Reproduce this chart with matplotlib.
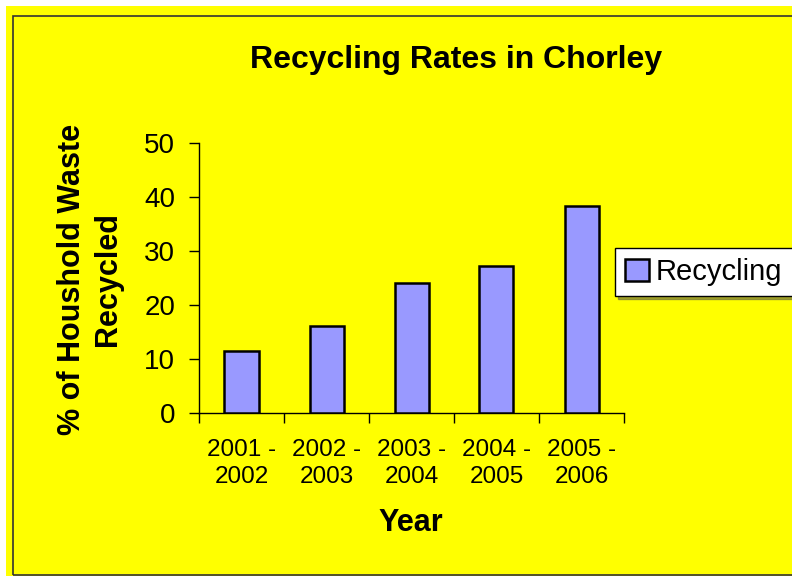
"""Bar chart of household waste recycling rates in Chorley."""

import matplotlib

matplotlib.use("Agg")
import matplotlib.pyplot as plt
from matplotlib.patches import Rectangle

plt.rcParams["font.family"] = ["Liberation Sans", "DejaVu Sans"]

YEARS = ["2001 -\n2002", "2002 -\n2003", "2003 -\n2004", "2004 -\n2005", "2005 -\n2006"]
RECYCLED_PCT = [11.5, 16.2, 24.0, 27.3, 38.3]
Y_TICKS = [0, 10, 20, 30, 40, 50]

W, H = 792, 576
BG = "#FFFF00"
BAR = "#9999FF"


def fx(px):
    return px / W


def fy(py):
    return 1 - py / H


fig = plt.figure(figsize=(W / 100, H / 100), dpi=100, facecolor="white")

# yellow chart area and its outline, kept underneath the axes
fig.patches.append(Rectangle((fx(6), 0), 1, fy(6), transform=fig.transFigure,
                             facecolor=BG, edgecolor="none", zorder=-3))
fig.patches.append(Rectangle((fx(13), fy(575)), 1, fy(16) - fy(575),
                             transform=fig.transFigure, facecolor="none",
                             edgecolor="#333333", linewidth=1.2, zorder=-2))

ax = fig.add_axes([fx(199), fy(413), fx(624) - fx(199), fy(143) - fy(413)])
ax.set_facecolor("none")

x = list(range(len(YEARS)))
ax.bar(x, RECYCLED_PCT, width=0.4, color=BAR, edgecolor="black",
       linewidth=1.8, label="Recycling", zorder=3)

ax.set_xlim(-0.5, len(YEARS) - 0.5)
ax.set_ylim(0, 50)
ax.set_yticks(Y_TICKS)
ax.tick_params(axis="y", labelsize=20, length=7.2, width=1, direction="out", pad=10)

# category labels centred, tick marks on the boundaries
ax.set_xticks(x)
ax.set_xticklabels(YEARS, fontsize=17.5, linespacing=1.3)
ax.tick_params(axis="x", length=0, pad=19)
ax.set_xticks([i - 0.5 for i in range(len(YEARS) + 1)], minor=True)
ax.tick_params(axis="x", which="minor", length=7, width=1, direction="out")

for side in ("top", "right"):
    ax.spines[side].set_visible(False)
for side in ("left", "bottom"):
    ax.spines[side].set_linewidth(1)
    ax.spines[side].set_color("black")

fig.text(fx(456), fy(60), "Recycling Rates in Chorley", fontsize=23,
         fontweight="bold", ha="center", va="center")
fig.text(fx(411), fy(523), "Year", fontsize=22, fontweight="bold",
         ha="center", va="center")
fig.text(fx(90), fy(279), "% of Houshold Waste\nRecycled", fontsize=22,
         fontweight="bold", rotation=90, ha="center", va="center",
         multialignment="center", linespacing=1.25)

leg = ax.legend(loc="center left", bbox_to_anchor=(fx(615), fy(272)),
                bbox_transform=fig.transFigure, fontsize=21, frameon=True,
                fancybox=False, shadow=True, borderpad=0.35, handlelength=0.8,
                handleheight=0.8, handletextpad=0.25, borderaxespad=0)
leg.get_frame().set_edgecolor("black")
leg.get_frame().set_linewidth(1)
leg.get_frame().set_facecolor("white")

fig.savefig("out.png", dpi=100, facecolor=fig.get_facecolor())
